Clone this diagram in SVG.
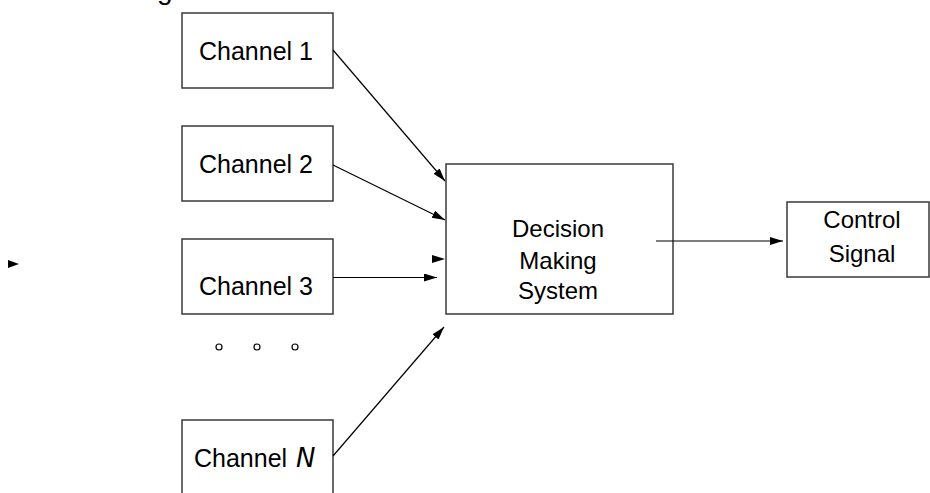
<svg xmlns="http://www.w3.org/2000/svg" width="930" height="493" viewBox="0 0 930 493">
<style>
.box{fill:#fff;stroke:#3a3a3a;stroke-width:1.5}
.lbl{font-family:"Liberation Sans",Arial,sans-serif;font-size:24px;fill:#000;text-anchor:middle}
.ch{font-size:25px}
.conn{stroke:#000;stroke-width:1.2;fill:none;marker-end:url(#ah)}
.dot{fill:#fff;stroke:#000;stroke-width:1.2}
</style>
<defs>
<marker id="ah" markerUnits="userSpaceOnUse" markerWidth="14" markerHeight="10" refX="13" refY="4" orient="auto">
<path d="M0,0 L13,4 L0,8 z" fill="#000"/>
</marker>
</defs>
<rect width="930" height="493" fill="#fff"/>
<text x="157" y="-1" style="font-family:'Liberation Sans',Arial,sans-serif;font-size:28px">g</text>
<g id="ch1"><rect class="box" x="182" y="13" width="151" height="75"/><text class="lbl ch" x="256" y="60">Channel 1</text></g>
<g id="ch2"><rect class="box" x="182" y="126" width="151" height="75"/><text class="lbl ch" x="256" y="173">Channel 2</text></g>
<g id="ch3"><rect class="box" x="182" y="239" width="151" height="75"/><text class="lbl ch" x="256" y="295">Channel 3</text></g>
<g id="dots"><circle class="dot" cx="219" cy="347" r="3"/><circle class="dot" cx="257" cy="347" r="3"/><circle class="dot" cx="295" cy="347" r="3"/></g>
<g id="chN"><rect class="box" x="182" y="420" width="151" height="90"/><text class="lbl ch" x="194" y="467" style="text-anchor:start">Channel</text><text x="296" y="467" style="font-family:'DejaVu Sans',sans-serif;font-style:italic;font-size:26px">N</text></g>
<g id="dms"><rect class="box" x="446" y="164" width="227" height="150"/><text class="lbl" x="558" y="237">Decision</text><text class="lbl" x="558" y="269">Making</text><text class="lbl" x="558" y="299">System</text></g>
<g id="ctrl"><rect class="box" x="787" y="202" width="142" height="75"/><text class="lbl" x="862" y="228">Control</text><text class="lbl" x="862" y="262">Signal</text></g>
<g id="connectors">
<line class="conn" x1="333" y1="50" x2="445" y2="181"/>
<line class="conn" x1="333" y1="165" x2="445" y2="220"/>
<line class="conn" x1="333" y1="277.5" x2="437" y2="277.5"/>
<line class="conn" x1="333" y1="456" x2="444" y2="327"/>
<line class="conn" x1="656" y1="241" x2="783" y2="241"/>
<path d="M432,255 L445,259 L432,263 z" fill="#000"/>
<path d="M8,260 L19,264 L8,268 z" fill="#000"/>
</g>
</svg>
